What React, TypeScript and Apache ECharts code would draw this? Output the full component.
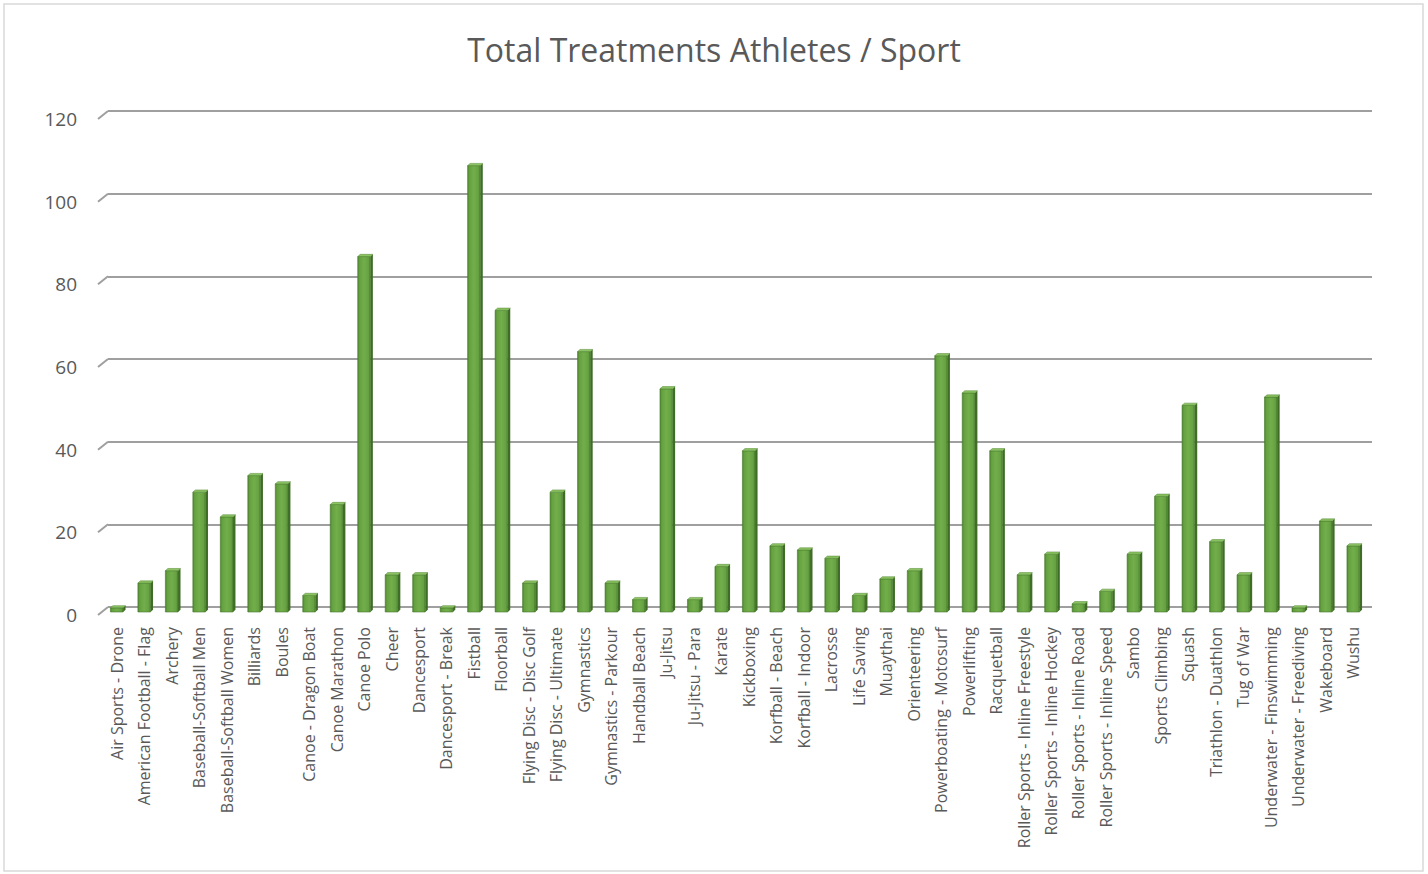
import React, { useEffect, useRef } from "react";
import * as echarts from "echarts";

const categories: string[] = [
  "Air Sports - Drone", "American Football - Flag", "Archery", "Baseball-Softball Men",
  "Baseball-Softball Women", "Billiards", "Boules", "Canoe - Dragon Boat", "Canoe Marathon",
  "Canoe Polo", "Cheer", "Dancesport", "Dancesport - Break", "Fistball", "Floorball",
  "Flying Disc - Disc Golf", "Flying Disc - Ultimate", "Gymnastics", "Gymnastics - Parkour",
  "Handball Beach", "Ju-Jitsu", "Ju-Jitsu - Para", "Karate", "Kickboxing", "Korfball - Beach",
  "Korfball - Indoor", "Lacrosse", "Life Saving", "Muaythai", "Orienteering",
  "Powerboating - Motosurf", "Powerlifting", "Racquetball", "Roller Sports - Inline Freestyle",
  "Roller Sports - Inline Hockey", "Roller Sports - Inline Road", "Roller Sports - Inline Speed",
  "Sambo", "Sports Climbing", "Squash", "Triathlon - Duathlon", "Tug of War",
  "Underwater - Finswimming", "Underwater - Freediving", "Wakeboard", "Wushu",
];

const treatments: number[] = [
  1, 7, 10, 29, 23, 33, 31, 4, 26, 86, 9, 9, 1, 108, 73, 7, 29, 63, 7, 3, 54, 3, 11, 39,
  16, 15, 13, 4, 8, 10, 62, 53, 39, 9, 14, 2, 5, 14, 28, 50, 17, 9, 52, 1, 22, 16,
];

const yTicks: number[] = [0, 20, 40, 60, 80, 100, 120];

const TITLE = "Total Treatments Athletes / Sport";
const FONT = "'Open Sans', 'Noto Sans', sans-serif";
const TEXT_COLOR = "#595959";
const GRID_COLOR = "#9f9f9f";

export default function App() {
  const ref = useRef<HTMLDivElement>(null);

  useEffect(() => {
    if (!ref.current) return;
    const chart = echarts.init(ref.current, null, { renderer: "svg" });
    const yMin = yTicks[0];
    const yMax = yTicks[yTicks.length - 1];
    const yStep = yTicks[1] - yTicks[0];

    const barData = treatments.map((v, i) => [i, v]);
    const tickData = yTicks.map((t) => [0, t]);

    const option: any = {
      animation: false,
      backgroundColor: "#ffffff",
      title: {
        text: TITLE,
        left: "center",
        top: 28,
        textStyle: {
          fontFamily: FONT,
          fontSize: 32,
          fontWeight: "normal",
          color: TEXT_COLOR,
        },
      },
      graphic: [
        {
          type: "rect",
          shape: { x: 4, y: 4, width: 1419, height: 867 },
          style: { fill: "none", stroke: "#d9d9d9", lineWidth: 1.5 },
          silent: true,
          z: -10,
        },
      ],
      grid: [
        { left: 103, top: 116, width: 1264, height: 496, outerBoundsMode: "none" },
        { left: 108, top: 111, width: 1264, height: 496, outerBoundsMode: "none" },
        { left: 98, top: 119, width: 1264, height: 496, outerBoundsMode: "none" },
      ],
      xAxis: [
        {
          type: "category",
          gridIndex: 0,
          data: categories,
          axisLine: { show: false },
          axisTick: { show: false },
          splitLine: { show: false },
          axisLabel: {
            interval: 0,
            rotate: 90,
            margin: 15,
            fontFamily: FONT,
            fontSize: 16,
            color: TEXT_COLOR,
          },
        },
        { type: "value", gridIndex: 1, min: 0, max: 1, show: false },
        { type: "value", gridIndex: 2, min: 0, max: 1, show: false },
      ],
      yAxis: [
        {
          type: "value",
          gridIndex: 0,
          min: yMin,
          max: yMax,
          interval: yStep,
          show: false,
        },
        {
          type: "value",
          gridIndex: 1,
          min: yMin,
          max: yMax,
          interval: yStep,
          axisLine: { show: false },
          axisTick: { show: false },
          axisLabel: { show: false },
          splitLine: {
            show: true,
            lineStyle: {
              color: GRID_COLOR,
              width: 2,
            },
          },
        },
        {
          type: "value",
          gridIndex: 2,
          min: yMin,
          max: yMax,
          interval: yStep,
          axisLine: { show: false },
          axisTick: { show: false },
          splitLine: { show: false },
          axisLabel: {
            margin: 21,
            fontFamily: FONT,
            fontSize: 19,
            color: TEXT_COLOR,
          },
        },
      ],
      series: [
        {
          type: "custom",
          name: "stubs",
          xAxisIndex: 1,
          yAxisIndex: 1,
          data: tickData,
          encode: { x: 0, y: 1 },
          silent: true,
          z: 1,
          renderItem: (params: any, api: any) => {
            const p = api.coord([api.value(0), api.value(1)]);
            return {
              type: "line",
              shape: { x1: p[0], y1: p[1], x2: p[0] - 10, y2: p[1] + 8 },
              style: { stroke: GRID_COLOR, lineWidth: 2 },
            };
          },
        },
        {
          type: "custom",
          name: "Total Treatments",
          xAxisIndex: 0,
          yAxisIndex: 0,
          data: barData,
          encode: { x: 0, y: 1 },
          z: 5,
          renderItem: (params: any, api: any) => {
            const idx = api.value(0);
            const v = api.value(1);
            const top = api.coord([idx, v]);
            const base = api.coord([idx, 0]);
            const bw = api.size([1, 0])[0] * 0.46;
            const x0 = top[0] - bw / 2;
            const dx = 2.5;
            const dy = 2.2;
            const h = Math.max(base[1] - top[1], 0.5);
            return {
              type: "group",
              children: [
                {
                  type: "polygon",
                  shape: {
                    points: [
                      [x0 + bw, top[1]],
                      [x0 + bw + dx, top[1] - dy],
                      [x0 + bw + dx, base[1] - dy],
                      [x0 + bw, base[1]],
                    ],
                  },
                  style: { fill: "#3f6d26" },
                },
                {
                  type: "rect",
                  shape: { x: x0, y: base[1] - h, width: bw, height: h },
                  style: {
                    fill: new echarts.graphic.LinearGradient(0, 0, 1, 0, [
                      { offset: 0, color: "#4f8530" },
                      { offset: 0.15, color: "#65a140" },
                      { offset: 0.5, color: "#72ae4a" },
                      { offset: 0.85, color: "#66a242" },
                      { offset: 1, color: "#4d8130" },
                    ]),
                    stroke: "#477a2c",
                    lineWidth: 0.6,
                  },
                },
                {
                  type: "polygon",
                  shape: {
                    points: [
                      [x0, base[1] - h],
                      [x0 + dx, base[1] - h - dy],
                      [x0 + bw + dx, base[1] - h - dy],
                      [x0 + bw, base[1] - h],
                    ],
                  },
                  style: { fill: "#8dc463", stroke: "#4f8530", lineWidth: 0.5 },
                },
              ],
            };
          },
        },
      ],
    };

    chart.setOption(option);
    return () => {
      chart.dispose();
    };
  }, []);

  return (
    <div style={{ position: "fixed", left: 0, top: 0, width: 1428, height: 874, background: "#fff" }}>
      <div ref={ref} style={{ width: 1428, height: 874 }} />
    </div>
  );
}
